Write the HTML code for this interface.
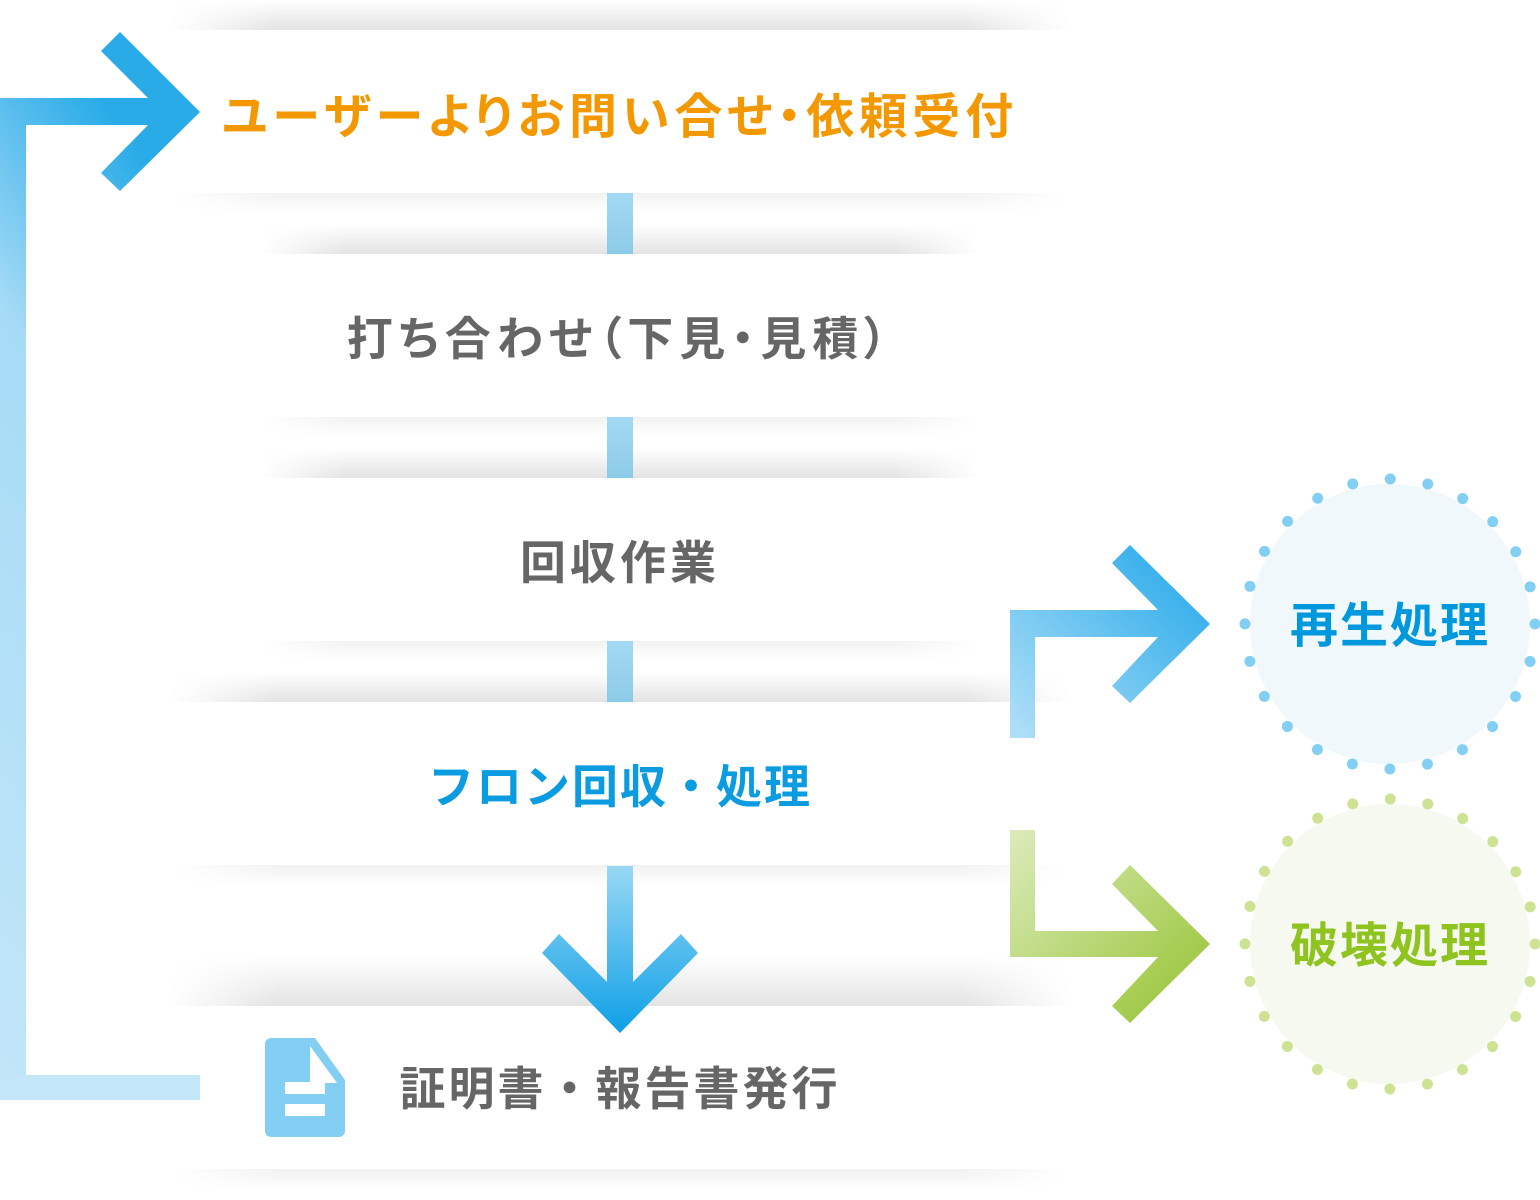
<!DOCTYPE html>
<html><head><meta charset="utf-8"><style>
html,body{margin:0;padding:0;background:#fff;}
body{width:1540px;height:1200px;position:relative;overflow:hidden;font-family:"Liberation Sans","Noto Sans CJK JP",sans-serif;}
.sh{position:absolute;-webkit-mask-image:linear-gradient(to right,transparent 0,#000 12%,#000 88%,transparent 100%);mask-image:linear-gradient(to right,transparent 0,#000 12%,#000 88%,transparent 100%);}
.top{background:linear-gradient(to bottom,rgba(0,0,0,0),rgba(0,0,0,0.11));}
.bot{background:linear-gradient(to bottom,rgba(0,0,0,0.05),rgba(0,0,0,0));}
.box{position:absolute;background:#fff;display:flex;align-items:center;justify-content:center;font-weight:bold;font-size:46px;color:#666;white-space:nowrap;}
.p{font-feature-settings:"palt" 1;}
svg{position:absolute;left:0;top:0;}
</style></head><body>
<div class="sh top" style="left:170px;top:0;width:900px;height:30px"></div>
<div class="sh bot" style="left:170px;top:193px;width:900px;height:20px"></div>
<div class="sh top" style="left:260px;top:224px;width:720px;height:30px"></div>
<div class="sh bot" style="left:260px;top:417px;width:720px;height:20px"></div>
<div class="sh top" style="left:260px;top:448px;width:720px;height:30px"></div>
<div class="sh bot" style="left:260px;top:641px;width:720px;height:20px"></div>
<div class="sh top" style="left:170px;top:672px;width:900px;height:30px"></div>
<div class="sh bot" style="left:170px;top:865px;width:900px;height:22px"></div>
<div class="sh top" style="left:170px;top:956px;width:900px;height:50px"></div>
<div class="sh bot" style="left:170px;top:1169px;width:900px;height:22px"></div>

<div class="box p" style="left:180px;top:30px;width:880px;height:163px;color:#f39800;font-size:48px;letter-spacing:5px">ユーザーよりお問い合せ・依頼受付</div>
<div class="box p" style="left:270px;top:254px;width:700px;height:163px;letter-spacing:6px">打ち合わせ（下見・見積）</div>
<div class="box" style="left:270px;top:478px;width:700px;height:163px;letter-spacing:4px">回収作業</div>
<div class="box" style="left:180px;top:702px;width:880px;height:163px;color:#0a9be0;letter-spacing:2px">フロン回収・処理</div>
<div class="box" style="left:180px;top:1006px;width:880px;height:163px"></div>

<svg width="1540" height="1200" viewBox="0 0 1540 1200">
<defs>
<linearGradient id="gl" x1="0" y1="1" x2="0.25" y2="0" gradientUnits="objectBoundingBox">
<stop offset="0" stop-color="#c3e6f8"/><stop offset="0.7" stop-color="#a6dbf6"/><stop offset="1" stop-color="#29abe8"/></linearGradient>
<linearGradient id="gb" x1="0" y1="1" x2="1" y2="0">
<stop offset="0" stop-color="#b2e0f8"/><stop offset="1" stop-color="#1fa6e8"/></linearGradient>
<linearGradient id="gg" x1="0" y1="0" x2="1" y2="1">
<stop offset="0" stop-color="#dcebbb"/><stop offset="1" stop-color="#94c22f"/></linearGradient>
<linearGradient id="gd" x1="0" y1="0" x2="0" y2="1">
<stop offset="0" stop-color="#99d8f5"/><stop offset="1" stop-color="#0ea0e6"/></linearGradient>
<linearGradient id="gc" x1="0" y1="0" x2="0" y2="1">
<stop offset="0" stop-color="#a3d9f3"/><stop offset="1" stop-color="#8ccbe8"/></linearGradient>
</defs>
<rect x="607" y="193" width="26" height="61" fill="url(#gc)"/>
<rect x="607" y="417" width="26" height="61" fill="url(#gc)"/>
<rect x="607" y="641" width="26" height="61" fill="url(#gc)"/>
<path d="M607,866 L633,866 L633,982 L681,934 L698,953 L620,1033 L542,953 L559,934 L607,982 Z" fill="url(#gd)"/>
<path d="M0,1100 L0,98 L148,98 L101,51 L120,32 L200,112 L120,191 L101,173 L148,125 L26,125 L26,1100 Z" fill="url(#gl)"/>
<rect x="0" y="1075" width="200" height="25" fill="#c3e6f8"/>
<path d="M1010,738 L1010,610 L1158,610 L1112,563 L1130,545 L1210,624 L1130,703 L1112,686 L1158,637 L1035,637 L1035,738 Z" fill="url(#gb)"/>
<path d="M1010,830 L1035,830 L1035,931 L1158,931 L1112,884 L1130,865 L1210,944 L1130,1023 L1112,1006 L1158,957 L1010,957 Z" fill="url(#gg)"/>
<circle cx="1390" cy="624" r="140" fill="#f0f8fc"/>
<circle cx="1390" cy="624" r="145" fill="none" stroke="#82cff3" stroke-width="11" stroke-linecap="round" stroke-dasharray="0 37.96"/>
<circle cx="1390" cy="944" r="140" fill="#f6f9f0"/>
<circle cx="1390" cy="944" r="145" fill="none" stroke="#cde293" stroke-width="11" stroke-linecap="round" stroke-dasharray="0 37.96"/>
<text x="1390" y="642" text-anchor="middle" font-family="Liberation Sans, Noto Sans CJK JP, sans-serif" font-weight="bold" font-size="48" fill="#0098dd" letter-spacing="2">再生処理</text>
<text x="1390" y="962" text-anchor="middle" font-family="Liberation Sans, Noto Sans CJK JP, sans-serif" font-weight="bold" font-size="48" fill="#8fc31f" letter-spacing="2">破壊処理</text>
<path d="M272,1038 L315,1038 L345,1080 L345,1130 Q345,1137 338,1137 L272,1137 Q265,1137 265,1130 L265,1045 Q265,1038 272,1038 Z" fill="#82cff3"/>
<path d="M310,1046 L337,1083 L310,1083 Z" fill="#fff"/>
<rect x="285" y="1082" width="40" height="12" fill="#fff"/>
<rect x="285" y="1104" width="40" height="12" fill="#fff"/>
<text x="620" y="1105" text-anchor="middle" font-family="Liberation Sans, Noto Sans CJK JP, sans-serif" font-weight="bold" font-size="46" fill="#666" letter-spacing="3">証明書・報告書発行</text>
</svg>
</body></html>
